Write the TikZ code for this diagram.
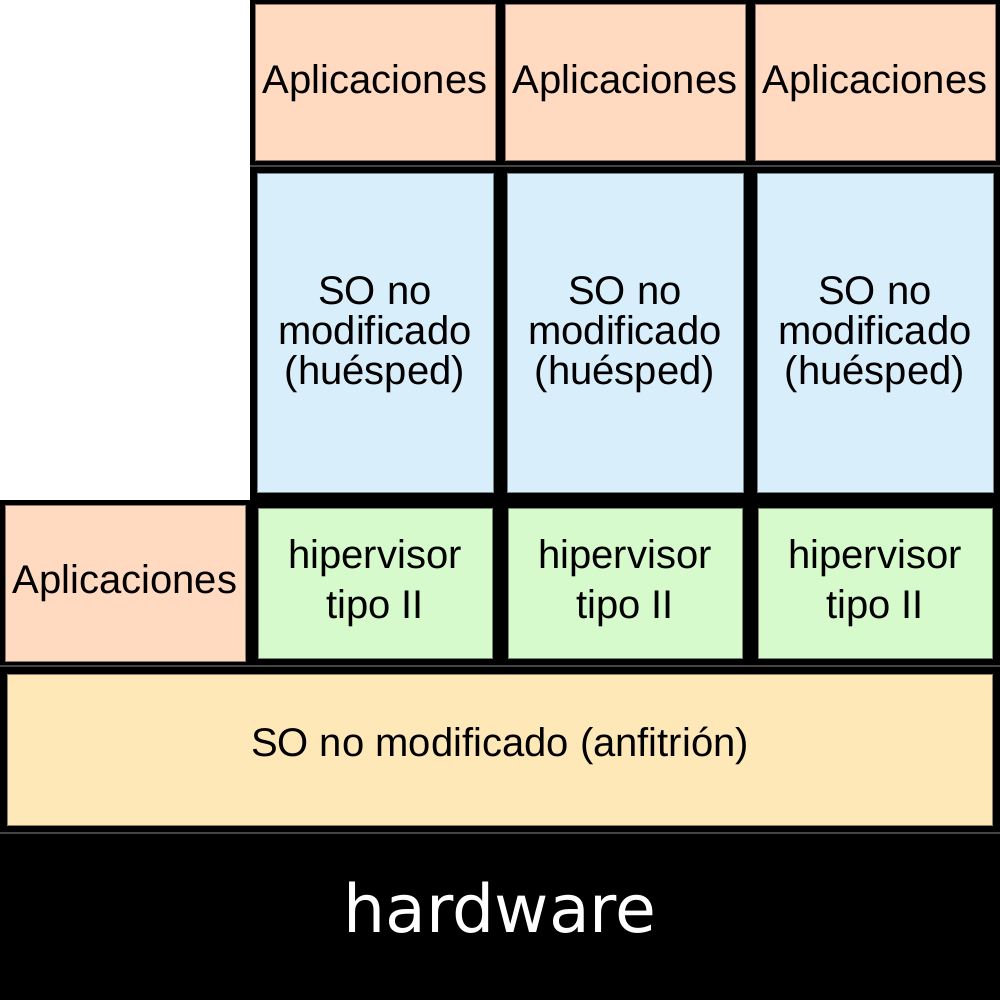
\documentclass[tikz,border=0pt]{standalone}
\usepackage{fontspec}
\setmainfont{Liberation Sans}
\newfontfamily\hwfont{DejaVu Sans}
\definecolor{cpeach}{HTML}{FFD9C0}
\definecolor{cblue}{HTML}{D8EEFB}
\definecolor{cgreen}{HTML}{D6FACB}
\definecolor{cyellow}{HTML}{FFE8B8}
\definecolor{csep}{HTML}{444444}
\tikzset{
  cell/.style={draw=#1!55!black, fill=#1, line width=1pt, inner sep=0pt, align=center,
    font=\fontsize{40}{40}\selectfont},
  appbox/.style={cell=cpeach, minimum width=240pt, minimum height=156pt},
  sobox/.style={cell=cblue, minimum width=236pt, minimum height=318pt},
  hypbox/.style={cell=cgreen, minimum width=234pt, minimum height=150pt,
    font=\fontsize{40}{50}\selectfont},
  hostbox/.style={cell=cyellow, minimum width=984.5pt, minimum height=151pt},
  plaintext/.style={inner sep=0pt, align=center, font=\fontsize{40}{40}\selectfont},
  sepline/.style={draw=csep, line width=1.5pt}
}
\begin{document}
\begin{tikzpicture}[x=1pt,y=-1pt]
\useasboundingbox (0,0) rectangle (1000,1000);
\fill[white] (0,0) rectangle (1000,1000);
\fill[black] (250,0) -- (1000,0) -- (1000,1000) -- (0,1000) -- (0,500) -- (250,500) -- cycle;
% separators
\coordinate (s1a) at (250,166); \coordinate (s1b) at (1000,166);
\coordinate (s2a) at (0,666); \coordinate (s2b) at (1000,666);
\coordinate (s3a) at (0,833); \coordinate (s3b) at (1000,833);
\draw[sepline] (s1a) -- (s1b);
\draw[sepline] (s2a) -- (s2b);
\draw[sepline] (s3a) -- (s3b);
% top applications
\node[appbox] (app1) at (375,83) {Aplicaciones};
\node[appbox] (app2) at (625,83) {Aplicaciones};
\node[appbox] (app3) at (875,83) {Aplicaciones};
% guest OS
\node[sobox] (so1) at (375,333) {};
\node[sobox] (so2) at (625,333) {};
\node[sobox] (so3) at (875,333) {};
\node[plaintext] (so1t) at (375,335) {SO no\\modificado\\(huésped)};
\node[plaintext] (so2t) at (625,335) {SO no\\modificado\\(huésped)};
\node[plaintext] (so3t) at (875,335) {SO no\\modificado\\(huésped)};
% hypervisors
\node[hypbox] (hyp1) at (375,583) {hipervisor\\tipo II};
\node[hypbox] (hyp2) at (625,583) {hipervisor\\tipo II};
\node[hypbox] (hyp3) at (875,583) {hipervisor\\tipo II};
% host apps
\node[appbox] (appL) at (125,583) {Aplicaciones};
% host OS
\node[hostbox] (host) at (499.75,749.5) {};
\node[plaintext] (hostt) at (500,745.5) {SO no modificado (anfitrión)};
% hardware
\node[text=white, font=\hwfont\fontsize{66.5}{70}\selectfont, inner sep=0pt] (hw) at (500,908) {hardware};
\end{tikzpicture}
\end{document}
